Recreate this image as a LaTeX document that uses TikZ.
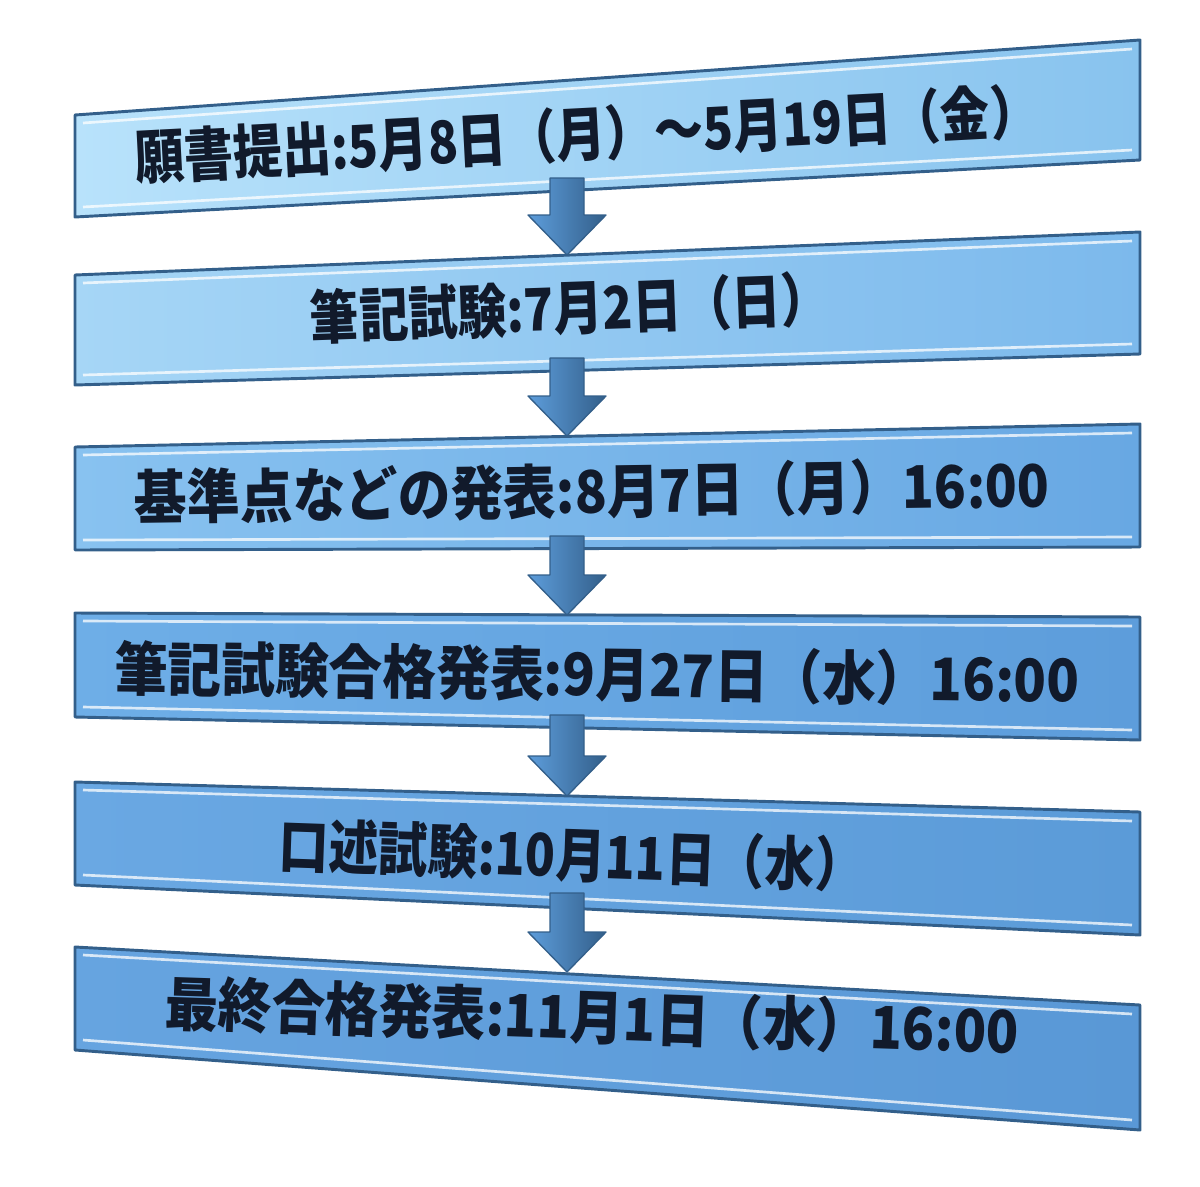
\documentclass[tikz,border=0pt]{standalone}
\usepackage{fontspec}
\usepackage{graphicx}
\newfontfamily\jpfont{Noto Sans CJK JP}
\usetikzlibrary{calc}

\definecolor{edgeblue}{HTML}{335F8A}
\definecolor{labelink}{HTML}{111A2B}
\definecolor{boxAl}{HTML}{B8E2FB}\definecolor{boxAr}{HTML}{88C3EE}
\definecolor{boxBl}{HTML}{A6D6F6}\definecolor{boxBr}{HTML}{7CB9EC}
\definecolor{boxCl}{HTML}{88C2F0}\definecolor{boxCr}{HTML}{68A8E3}
\definecolor{boxDl}{HTML}{6EAEE7}\definecolor{boxDr}{HTML}{5D9DDB}
\definecolor{boxEl}{HTML}{6AA8E3}\definecolor{boxEr}{HTML}{5B9BD8}
\definecolor{boxFl}{HTML}{66A4E0}\definecolor{boxFr}{HTML}{5998D6}

\tikzset{every picture/.style={line width=0.75pt}}
\tikzset{
  stepbox/.style={draw=edgeblue, line width=2.2pt, line join=round},
  hilite/.style={draw=white, line width=2pt, opacity=0.75},
  flowarrow/.style={draw=edgeblue, line width=1pt, line join=round,
    left color=boxDr, middle color=boxAl, right color=edgeblue},
  steplabel/.style={text=labelink, inner sep=0pt, font=\jpfont\bfseries}
}
\newcommand{\fitlabel}[2]{\resizebox{#1}{38pt}{#2}}

\begin{document}
\begin{tikzpicture}[x=0.75pt,y=0.75pt,yscale=-1,xscale=1]
\useasboundingbox (0,0) rectangle (1200,1186);

%Shape: box 1
\draw [stepbox, left color=boxAl, right color=boxAr] (75,115) -- (1140,40) -- (1140,160) -- (75,217) -- cycle ;
\draw [hilite] (83,123) -- (1132,49) ;
\draw [hilite] (83,207) -- (1132,150) ;
%Shape: box 2
\draw [stepbox, left color=boxBl, right color=boxBr] (75,275) -- (1140,232) -- (1140,354) -- (75,385) -- cycle ;
\draw [hilite] (83,283) -- (1132,241) ;
\draw [hilite] (83,375) -- (1132,344) ;
%Shape: box 3
\draw [stepbox, left color=boxCl, right color=boxCr] (75,447) -- (1140,424) -- (1140,547) -- (75,550) -- cycle ;
\draw [hilite] (83,455) -- (1132,433) ;
\draw [hilite] (83,540) -- (1132,537) ;
%Shape: box 4
\draw [stepbox, left color=boxDl, right color=boxDr] (75,613) -- (1140,617) -- (1140,740) -- (75,717) -- cycle ;
\draw [hilite] (83,621) -- (1132,626) ;
\draw [hilite] (83,707) -- (1132,730) ;
%Shape: box 5
\draw [stepbox, left color=boxEl, right color=boxEr] (75,782) -- (1140,812) -- (1140,935) -- (75,885) -- cycle ;
\draw [hilite] (83,790) -- (1132,821) ;
\draw [hilite] (83,875) -- (1132,925) ;
%Shape: box 6
\draw [stepbox, left color=boxFl, right color=boxFr] (75,947) -- (1140,1005) -- (1140,1130) -- (75,1050) -- cycle ;
\draw [hilite] (83,955) -- (1132,1014) ;
\draw [hilite] (83,1040) -- (1132,1120) ;

%Arrow ends
\coordinate (b1bot) at (567,178);
\coordinate (b2top) at (567,255);
\coordinate (b2bot) at (567,358);
\coordinate (b3top) at (567,436);
\coordinate (b3bot) at (567,536);
\coordinate (b4top) at (567,615);
\coordinate (b4bot) at (567,715);
\coordinate (b5top) at (567,796);
\coordinate (b5bot) at (567,893);
\coordinate (b6top) at (567,972);

%Block Arrows
\draw [flowarrow] ($(b1bot)+(-17,0)$) -- ($(b2top)+(-17,-40)$) -- ($(b2top)+(-39,-40)$) -- (b2top) -- ($(b2top)+(39,-40)$) -- ($(b2top)+(17,-40)$) -- ($(b1bot)+(17,0)$) -- cycle ;
\draw [flowarrow] ($(b2bot)+(-17,0)$) -- ($(b3top)+(-17,-40)$) -- ($(b3top)+(-39,-40)$) -- (b3top) -- ($(b3top)+(39,-40)$) -- ($(b3top)+(17,-40)$) -- ($(b2bot)+(17,0)$) -- cycle ;
\draw [flowarrow] ($(b3bot)+(-17,0)$) -- ($(b4top)+(-17,-40)$) -- ($(b4top)+(-39,-40)$) -- (b4top) -- ($(b4top)+(39,-40)$) -- ($(b4top)+(17,-40)$) -- ($(b3bot)+(17,0)$) -- cycle ;
\draw [flowarrow] ($(b4bot)+(-17,0)$) -- ($(b5top)+(-17,-40)$) -- ($(b5top)+(-39,-40)$) -- (b5top) -- ($(b5top)+(39,-40)$) -- ($(b5top)+(17,-40)$) -- ($(b4bot)+(17,0)$) -- cycle ;
\draw [flowarrow] ($(b5bot)+(-17,0)$) -- ($(b6top)+(-17,-40)$) -- ($(b6top)+(-39,-40)$) -- (b6top) -- ($(b6top)+(39,-40)$) -- ($(b6top)+(17,-40)$) -- ($(b5bot)+(17,0)$) -- cycle ;

% Text Node
\node (t1) [steplabel, rotate=3] at (587,134) {\fitlabel{679pt}{願書提出:5月8日（月）～5月19日（金）}};
% Text Node
\node (t2) [steplabel, rotate=2] at (570,308) {\fitlabel{390pt}{筆記試験:7月2日（日）}};
% Text Node
\node (t3) [steplabel, rotate=0.8] at (592,491) {\fitlabel{686pt}{基準点などの発表:8月7日（月）16:00}};
% Text Node
\node (t4) [steplabel, rotate=-0.7] at (597,674) {\fitlabel{724pt}{筆記試験合格発表:9月27日（水）16:00}};
% Text Node
\node (t5) [steplabel, rotate=-2] at (572,855) {\fitlabel{439pt}{口述試験:10月11日（水）}};
% Text Node
\node (t6) [steplabel, rotate=-1.9] at (592,1017) {\fitlabel{641pt}{最終合格発表:11月1日（水）16:00}};

\end{tikzpicture}
\end{document}
